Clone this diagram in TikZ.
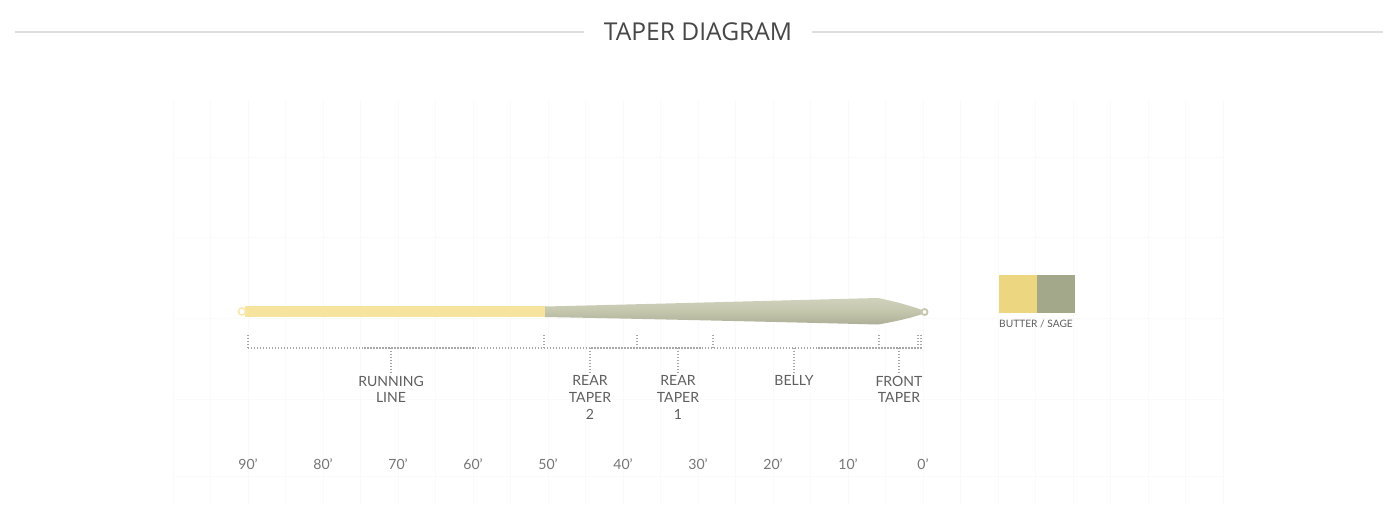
\documentclass[tikz,border=0pt]{standalone}
\usepackage{fontspec}
\setmainfont{Lato}
\newfontfamily\titlefont{Open Sans}
\usepackage{xcolor}
\usepackage{tikz}
\usetikzlibrary{positioning}
\definecolor{butter}{RGB}{237, 214, 128}
\definecolor{butterline}{RGB}{246, 228, 158}
\definecolor{sage}{RGB}{163, 168, 138}
\definecolor{sageline}{RGB}{196, 198, 172}
\definecolor{labelgray}{RGB}{95, 95, 95}
\definecolor{rulegray}{RGB}{222, 222, 222}

\begin{document}
\begin{tikzpicture}[x=0.02cm, y=-0.02cm,
    seclabel/.style={font=\fontsize{8}{9.6}\selectfont, text=labelgray, align=center,
                     anchor=north, inner sep=0pt},
    scalelabel/.style={font=\fontsize{8}{9.6}\selectfont, text=labelgray!85, inner sep=1pt},
    dotline/.style={draw=gray!70, dash pattern=on 0.85pt off 0.85pt, line width=0.75pt},
    swatch/.style={rectangle, minimum width=0.76cm, minimum height=0.76cm, inner sep=0pt}
]
\useasboundingbox[fill=white] (0,0) rectangle (1400,504);

% faint grid behind the line
\foreach \x in {0,...,28} \draw[black!2, line width=0.5pt] (173+37.5*\x,100) -- (173+37.5*\x,504);
\foreach \y in {157,237,318,399,476} \draw[black!2, line width=0.5pt] (175,\y) -- (1225,\y);

% title with side rules
\node[font=\titlefont\fontsize{14}{16}\selectfont, text=black!72, inner xsep=11pt] (title) at (698,32) {TAPER DIAGRAM};
\coordinate (ruleL) at (15,32);
\coordinate (ruleR) at (1383,32);
\draw[rulegray, line width=0.8pt] (ruleL) -- (title.west);
\draw[rulegray, line width=0.8pt] (title.east) -- (ruleR);

% the fly line
\fill[butterline] (245,306) rectangle (546,317);
\draw[butterline!80, line width=1pt, fill=white] (242,311.5) circle (3.5);
\shade[top color=sageline!80!white, bottom color=sageline!88!black, middle color=sageline]
    (545,306.5) .. controls (650,304) and (780,300.5) .. (878,298)
    .. controls (898,302) and (910,306) .. (921,309.5) -- (921,314.5)
    .. controls (910,318) and (898,321) .. (878,324.5)
    .. controls (780,322) and (650,319) .. (545,317) -- cycle;
\draw[sageline, line width=1pt, fill=white] (924.5,312) circle (3);

% section bracket
\coordinate (bracket) at (0,348);
\foreach \x in {248,544,637,713,879,918,921} \draw[dotline] (\x,335) -- (\x,348);
\draw[dotline] (248,348) -- (922,348);

\node[seclabel] (running) at (391,375.5) {RUNNING\\LINE};
\node[seclabel] (rear2) at (590,375.5) {REAR\\TAPER\\2};
\node[seclabel] (rear1) at (678,375.5) {REAR\\TAPER\\1};
\node[seclabel] (belly) at (794,375.5) {BELLY};
\node[seclabel] (front) at (899,375.5) {FRONT\\TAPER};

\foreach \n in {running,rear2,rear1,belly,front}
    \draw[dotline] (\n.north |- bracket) -- ([yshift=1.5pt]\n.north);

% length scale
\foreach \v [count=\i from 0] in {90,80,70,60,50,40,30,20,10,0}
    \node[scalelabel] (s\v) at (248+75*\i,464) {\v’};

% colour swatch
\node[swatch, fill=butter] (butter) at (1017.5,294) {};
\node[swatch, fill=sage, right=0pt of butter] (sage) {};
\node[font=\fontsize{5.8}{7}\selectfont, text=labelgray, inner sep=0pt] (swatchlabel) at (1036,323.5) {BUTTER / SAGE};

\end{tikzpicture}
\end{document}
